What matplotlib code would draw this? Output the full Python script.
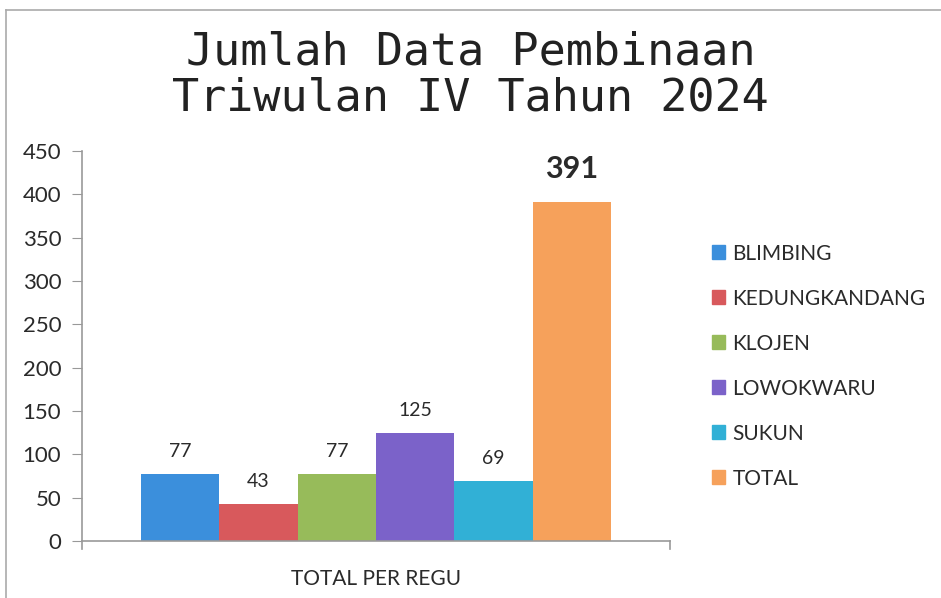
import matplotlib
matplotlib.use("Agg")
import matplotlib.pyplot as plt
from matplotlib.lines import Line2D

categories = ["BLIMBING", "KEDUNGKANDANG", "KLOJEN", "LOWOKWARU", "SUKUN", "TOTAL"]
values = [77, 43, 77, 125, 69, 391]
colors = ["#3b8fdc", "#d8595c", "#97bb5a", "#7b62c9", "#31b0d6", "#f6a15b"]
group_label = "TOTAL PER REGU"
title = "Jumlah Data Pembinaan\nTriwulan IV Tahun 2024"
yticks = [0, 50, 100, 150, 200, 250, 300, 350, 400, 450]

plt.rcParams['font.family'] = ['Lato', 'DejaVu Sans']

fig = plt.figure(figsize=(9.41, 5.98), dpi=100)
ax = fig.add_axes([82/941, 1-541/598, (670-82)/941, (541-151)/598])

n = len(values)
total_w = 0.8
w = total_w / n
for i, (c, v, col) in enumerate(zip(categories, values, colors)):
    x = -total_w/2 + w*(i+0.5)
    ax.bar(x, v, width=w, color=col, label=c)
    if c == "TOTAL":
        ax.annotate(str(v), (x, v), xytext=(0, 14), textcoords="offset points",
                    ha="center", va="bottom", fontsize=22, fontweight="bold", color="#2a2a2a")
    else:
        ax.annotate(str(v), (x, v), xytext=(0, 10), textcoords="offset points",
                    ha="center", va="bottom", fontsize=14, color="#2a2a2a")

ax.set_xlim(-0.5, 0.5)
ax.set_ylim(0, 450)
ax.set_yticks(yticks)
ax.set_xticks([0])
ax.set_xticklabels([group_label], fontsize=15, color="#2a2a2a")
ax.tick_params(axis="x", length=0, pad=20)
ax.tick_params(axis="y", labelsize=16, labelcolor="#2a2a2a", color="#999999", length=7, direction="out", pad=8)
for s in ["top", "right"]:
    ax.spines[s].set_visible(False)
for s in ["left", "bottom"]:
    ax.spines[s].set_color("#999999")
    ax.spines[s].set_linewidth(1.2)
# end ticks on x axis
for xx in (-0.5, 0.5):
    ax.plot([xx, xx], [0, -9], color="#999999", lw=1.2, clip_on=False)

fig.text(0.5, 1-75/598, title, ha="center", va="center", fontsize=32.5,
         family="DejaVu Sans Mono", color="#222222", linespacing=1.08)

handles = [plt.Rectangle((0, 0), 1, 1, color=col) for col in colors]
leg = fig.legend(handles, categories, loc="upper left", bbox_to_anchor=(693/941, 1-225/598),
                 frameon=False, fontsize=15, handlelength=0.65, handleheight=0.65,
                 handletextpad=0.35, labelspacing=1.2, labelcolor="#2a2a2a")

# frame border
fig.add_artist(Line2D([6/941, 6/941], [0, 1-10/598], color="#aaaaaa", lw=1.2))
fig.add_artist(Line2D([6/941, 1], [1-10/598, 1-10/598], color="#aaaaaa", lw=1.2))

fig.savefig("out.png", dpi=100)
